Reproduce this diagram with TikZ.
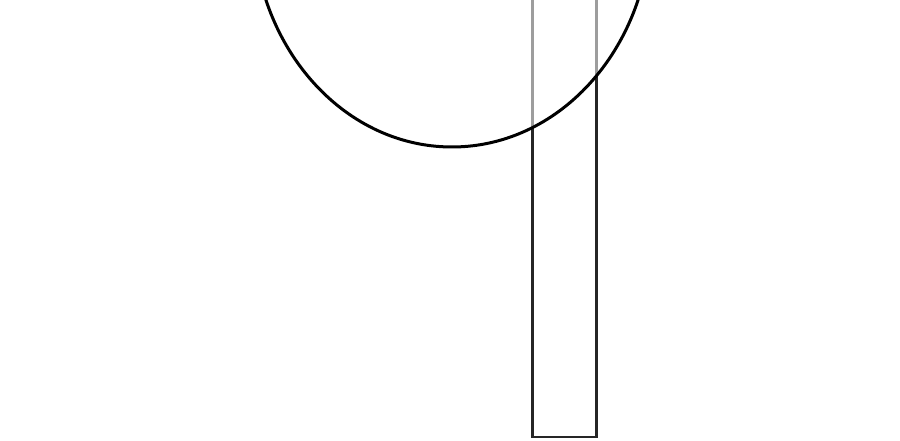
\documentclass[tikz,border=0pt]{standalone}
\begin{document}
\begin{tikzpicture}[x=1pt,y=1pt]
\useasboundingbox (0,0) rectangle (900,441);
% Draw the stem
\draw[line width=2.4pt,color=black!85] (532.5,4) rectangle (596.5,470);
% Draw the head over it
\draw[line width=3pt,fill=white,fill opacity=0.55] (452,522) ellipse (199 and 228);
\end{tikzpicture}
\end{document}
